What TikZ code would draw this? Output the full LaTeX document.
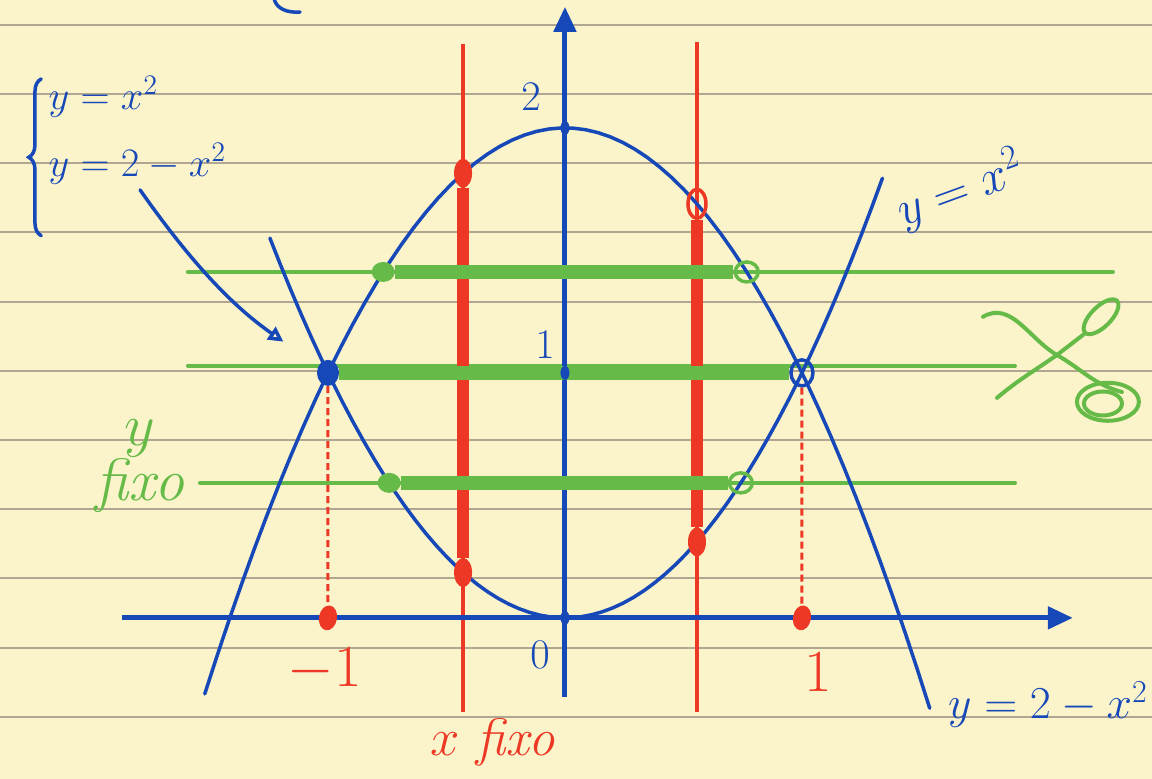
\documentclass[tikz,border=0pt]{standalone}
\usepackage{fix-cm}
\usepackage{xcolor}
\usepackage{tikz}
\usetikzlibrary{shapes,arrows.meta,positioning,calc,decorations.pathreplacing}
\definecolor{paper}{RGB}{251,244,203}
\definecolor{ruleline}{RGB}{176,166,146}
\definecolor{penblue}{RGB}{22,72,184}
\definecolor{penred}{RGB}{236,56,36}
\definecolor{pengreen}{RGB}{102,186,72}

\begin{document}
\begin{tikzpicture}[x=4.74cm, y=4.9cm,
    curve/.style={penblue, line width=0.07cm, line cap=round},
    axis/.style={penblue, line width=0.1cm, -{Triangle[length=0.5cm, width=0.44cm]}},
    redline/.style={penred, line width=0.08cm},
    redthick/.style={penred, line width=0.24cm},
    greenline/.style={pengreen, line width=0.08cm, line cap=round},
    greenthick/.style={pengreen, line width=0.28cm},
    proj/.style={penred, line width=0.06cm, dash pattern=on 0.14cm off 0.08cm},
    blob/.style={ellipse, inner sep=0pt},
    bluedot/.style={blob, fill=penblue, minimum width=0.18cm, minimum height=0.28cm},
    bigdot/.style={blob, fill=penblue, minimum width=0.44cm, minimum height=0.52cm},
    reddot/.style={blob, fill=penred, minimum width=0.36cm, minimum height=0.58cm},
    greendot/.style={blob, fill=pengreen, minimum width=0.46cm, minimum height=0.4cm},
    hollow/.style={fill=none, draw, line width=0.07cm},
    hand/.style={inner sep=0pt}
]
\fill[paper] (-2.384,-0.657) rectangle (2.477,2.522);
\useasboundingbox (-2.384,-0.657) rectangle (2.477,2.522);
\foreach \k in {0,...,10}
  \draw[ruleline, line width=0.04cm] (-2.384,{2.4204-0.28245*\k}) -- (2.477,{2.4204-0.28245*\k});

\draw[greenline] (-1.591,1.412) -- (2.312,1.412);
\draw[greenline] (-1.591,1.03) -- (1.899,1.03);
\draw[greenline] (-1.54,0.551) -- (1.899,0.551);

\draw[redline] (-0.43,-0.384) -- (-0.43,2.343);
\draw[redline] (0.557,-0.384) -- (0.557,2.351);

\draw[curve] plot[domain=-1.245:1.34, samples=60] (\x,{\x*\x});
\draw[curve] plot[domain=-1.52:1.54, samples=60] (\x,{2-\x*\x});
\draw[axis] (-1.869,0) -- (2.143,0);
\draw[axis] (0,-0.322) -- (0,2.494);

\node[bigdot] (pl) at (-1,1) {};
\node[bigdot, hollow, draw=penblue] (pr) at (1,1) {};
\node[reddot] (xa) at (-0.43,1.815) {};
\node[reddot] (xb) at (-0.43,0.185) {};
\node[reddot, hollow, draw=penred] (xc) at (0.557,1.69) {};
\node[reddot] (xd) at (0.557,0.31) {};
\node[reddot, minimum height=0.5cm, rotate=-10] (m1) at (-1,0) {};
\node[reddot, minimum height=0.5cm, rotate=-10] (p1) at (1,0) {};
\node[greendot] (ga) at (-0.767,1.412) {};
\node[greendot, hollow, draw=pengreen] (gb) at (0.767,1.412) {};
\node[greendot] (gc) at (-0.742,0.551) {};
\node[greendot, hollow, draw=pengreen] (gd) at (0.742,0.551) {};

\draw[proj] (pl) -- (m1);
\draw[proj] (pr) -- (p1);
\draw[redthick] (xa) -- (xb);
\draw[redthick] (xc) -- (xd);
\draw[greenthick] (ga) -- (gb);
\draw[greenthick] (pl) -- (pr);
\draw[greenthick] (gc) -- (gd);

\node[bluedot] (d2) at (0,2) {};
\node[bluedot] (d1) at (0,1) {};
\node[bluedot] (d0) at (0,0) {};

\node[hand, penblue, font=\fontsize{24}{26}\selectfont] (lab2) at (-0.143,2.127) {$2$};
\node[hand, penblue, font=\fontsize{24}{26}\selectfont] (lab1) at (-0.084,1.114) {$1$};
\node[hand, penblue, font=\fontsize{24}{26}\selectfont] (lab0) at (-0.105,-0.151) {$0$};
\node[hand, penred, font=\fontsize{34}{36}\selectfont] (labm1) at (-1.013,-0.212) {$-1$};
\node[hand, penred, font=\fontsize{34}{36}\selectfont] (labp1) at (1.068,-0.22) {$1$};
\node[hand, penred, font=\fontsize{30}{32}\selectfont] (xfix) at (-0.304,-0.506) {$x$ \textit{fixo}};
\node[hand, pengreen, align=center, font=\fontsize{34}{29}\selectfont] (yfix) at (-1.793,0.62) {$y$\\\textit{fixo}};
\node[hand, penblue, rotate=20, font=\fontsize{28}{30}\selectfont] (cy1) at (1.667,1.747) {$y=x^2$};
\node[hand, penblue, font=\fontsize{26}{28}\selectfont] (cy2) at (2.038,-0.355) {$y=2-x^2$};
\node[hand, penblue, anchor=west, align=left, font=\fontsize{23}{38}\selectfont] (sys) at (-2.18,1.99)
  {$y=x^2$\\$y=2-x^2$};
\draw[curve, decorate, decoration={brace, amplitude=0.25cm}] (-2.21,1.56) -- (-2.21,2.2);

\coordinate (arrstart) at (-1.793,1.747);
\draw[curve, -{Triangle[open, length=0.3cm, width=0.3cm]}, shorten >=0.85cm]
  (arrstart) to[out=-55, in=145] (pl);

\draw[greenline] (1.764,1.229) to[out=30, in=150] (2.076,1.073) to[out=-30, in=165] (2.35,0.922);
\draw[greenline] (2.291,0.882) ellipse [x radius=0.62cm, y radius=0.38cm];
\draw[greenline] (2.27,0.875) ellipse [x radius=0.38cm, y radius=0.24cm];
\draw[greenline] (1.823,0.898) to[out=40, in=-145] (2.076,1.073) -- (2.19,1.158);
\draw[greenline, rotate around={45:(2.262,1.229)}] (2.262,1.229) ellipse [x radius=0.45cm, y radius=0.2cm];

\draw[curve] (-1.118,2.473) to[out=185, in=-80] (-1.228,2.53);
\end{tikzpicture}
\end{document}
